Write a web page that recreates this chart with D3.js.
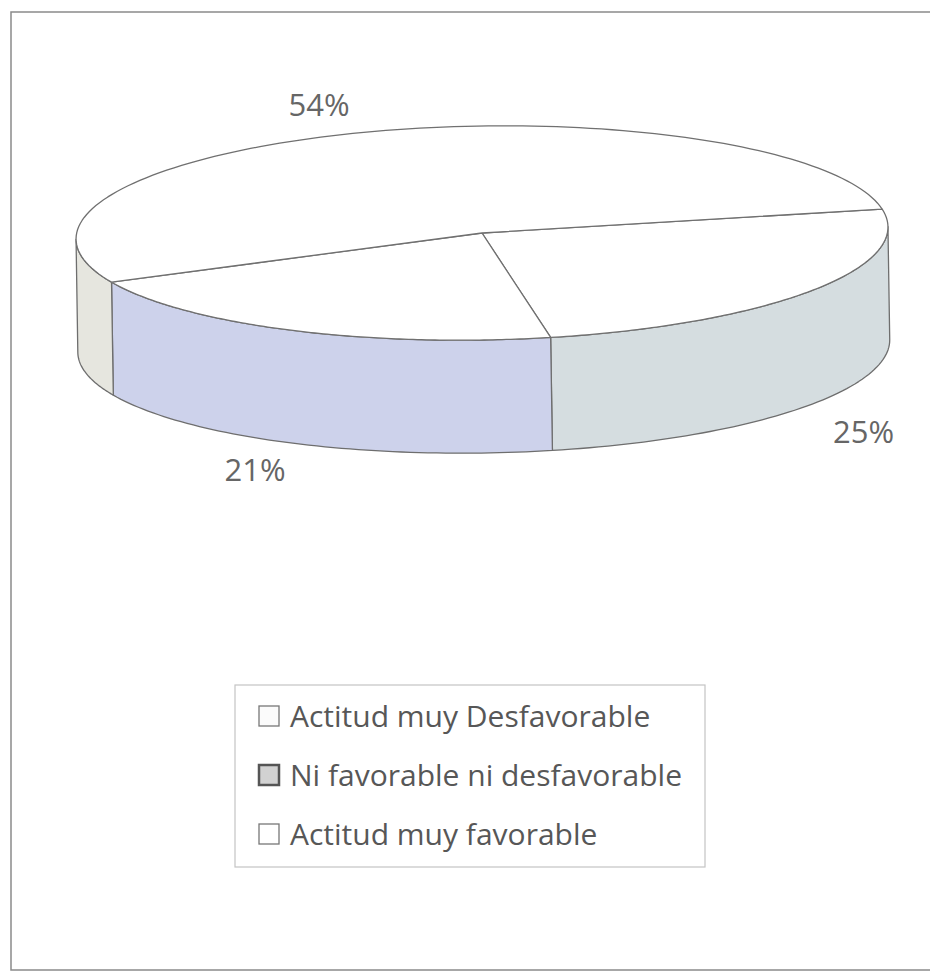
<!DOCTYPE html>
<html>
<head>
<meta charset="utf-8">
<script src="https://cdn.jsdelivr.net/npm/d3@7"></script>
<style>
  body { margin: 0; background: #fff; }
  svg { display: block; font-family: "Open Sans", sans-serif; }
</style>
</head>
<body>
<div id="chart"></div>
<script>
// data
let categories = ["Actitud muy Desfavorable", "Ni favorable ni desfavorable", "Actitud muy favorable"];
let values = [25, 21, 54];
let labels = ["25%", "21%", "54%"];
let sideColors = ["#d5dde0", "#cdd2eb", "#e6e6df"];
let legendFills = ["#fbfbfb", "#d2d2d2", "#ffffff"];

let width = 930, height = 972;

// pie geometry (flattened ellipse)
let cx = 482, cy = 233, rx = 406, ry = 107, depth = 113;
let tilt = -0.9;

let svg = d3.select("#chart").append("svg")
    .attr("width", width)
    .attr("height", height);

// outer frame
svg.append("rect")
    .attr("x", 11).attr("y", 12)
    .attr("width", 940).attr("height", 958)
    .attr("fill", "none")
    .attr("stroke", "#8a8a8a")
    .attr("stroke-width", 1.5);

let pie = d3.pie()
    .sort(null)
    .startAngle(80.5 * Math.PI / 180)
    .endAngle(80.5 * Math.PI / 180 + 2 * Math.PI);

let arcs = pie(values);

// d3 angle (clockwise from 12 o'clock) -> point on the ellipse
function px(a) { return cx + rx * Math.sin(a); }
function py(a, z) { return cy - ry * Math.cos(a) + (z || 0); }

let line = d3.line();

let g = svg.append("g")
    .attr("transform", "rotate(" + tilt + "," + cx + "," + cy + ")");

// visible front is d3 angle in [PI/2, 3PI/2]
function sidePath(d) {
    let a0 = Math.max(d.startAngle, Math.PI / 2);
    let a1 = Math.min(d.endAngle, 3 * Math.PI / 2);
    if (a1 <= a0) return null;
    let steps = d3.range(0, 61).map(i => a0 + (a1 - a0) * i / 60);
    let top = steps.map(a => [px(a), py(a)]);
    let bottom = steps.slice().reverse().map(a => [px(a), py(a, depth)]);
    return line(top.concat(bottom)) + "Z";
}

// sides
g.selectAll("path.side")
    .data(arcs)
    .enter()
    .append("path")
    .attr("class", "side")
    .attr("d", sidePath)
    .attr("fill", (d, i) => sideColors[i])
    .attr("stroke", "#6e6e6e")
    .attr("stroke-width", 1.3)
    .attr("stroke-linejoin", "round");

// top faces
g.selectAll("path.top")
    .data(arcs)
    .enter()
    .append("path")
    .attr("class", "top")
    .attr("d", function (d) {
        let steps = d3.range(0, 121).map(i => d.startAngle + (d.endAngle - d.startAngle) * i / 120);
        let pts = [[cx, cy]].concat(steps.map(a => [px(a), py(a)]));
        return line(pts) + "Z";
    })
    .attr("fill", "#ffffff")
    .attr("stroke", "#707070")
    .attr("stroke-width", 1.3)
    .attr("stroke-linejoin", "round");

// percentage labels
svg.selectAll("text.pct")
    .data(arcs)
    .enter()
    .append("text")
    .attr("class", "pct")
    .attr("x", function (d) {
        let m = (d.startAngle + d.endAngle) / 2;
        let s = Math.sin(m);
        let front = -Math.cos(m) > 0;
        return cx + 1.2 * rx * s + (front ? (s > 0 ? -15 : 4) : -23);
    })
    .attr("y", function (d) {
        let m = (d.startAngle + d.endAngle) / 2;
        let front = -Math.cos(m) > 0;
        return cy - 1.2 * ry * Math.cos(m) + (front ? depth + 22 : 6);
    })
    .attr("text-anchor", "middle")
    .attr("font-size", 31)
    .attr("fill", "#666")
    .text((d, i) => labels[i]);

// legend
let legend = svg.append("g").attr("transform", "translate(235,685)");

legend.append("rect")
    .attr("width", 470).attr("height", 182)
    .attr("fill", "#fff")
    .attr("stroke", "#c4c4c4")
    .attr("stroke-width", 1.2);

let items = legend.selectAll("g.item")
    .data(categories)
    .enter()
    .append("g")
    .attr("class", "item")
    .attr("transform", (d, i) => "translate(0," + (42 + i * 59) + ")");

items.append("rect")
    .attr("x", 24).attr("y", -21)
    .attr("width", 20).attr("height", 20)
    .attr("fill", (d, i) => legendFills[i])
    .attr("stroke", (d, i) => i === 1 ? "#555" : "#777")
    .attr("stroke-width", (d, i) => i === 1 ? 2.5 : 1.3);

items.append("text")
    .attr("x", 55)
    .attr("y", 0)
    .attr("font-size", 30)
    .attr("fill", "#575757")
    .text(d => d);
</script>
</body>
</html>
